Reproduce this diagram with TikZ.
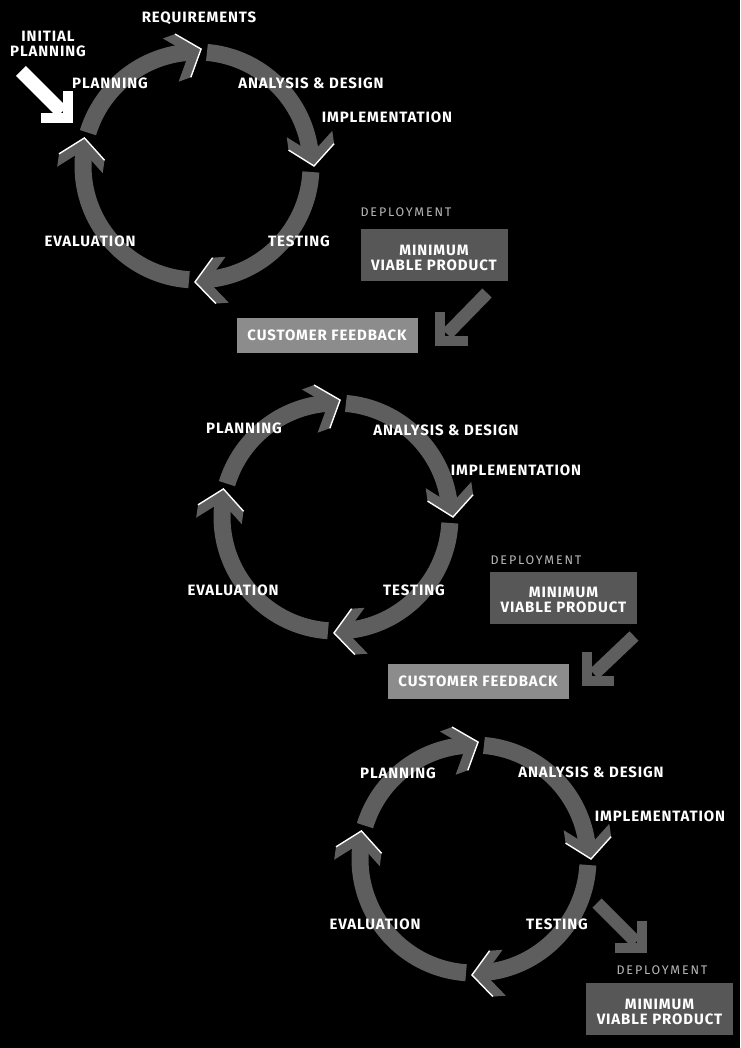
\documentclass[tikz,border=0pt]{standalone}
\usepackage{fontspec}
\setmainfont{Fira Sans}
\usetikzlibrary{calc}
\definecolor{ringgray}{gray}{0.37}
\definecolor{mvpgray}{gray}{0.34}
\definecolor{cfgray}{gray}{0.55}
\definecolor{deploygray}{gray}{0.72}
\tikzset{
  ring/.style={draw=ringgray, line width=17pt},
  lblfont/.style={font=\bfseries\fontsize{15}{15}\selectfont\addfontfeatures{LetterSpace=6}},
  lbl/.style={text=white, lblfont, inner sep=0pt, anchor=base},
  deploylbl/.style={text=deploygray, font=\fontsize{12.5}{12.5}\selectfont\addfontfeatures{LetterSpace=15}, inner sep=0pt, anchor=base},
  mvpbox/.style={fill=mvpgray, inner sep=0pt, minimum width=147pt, minimum height=52pt},
  mvptext/.style={text=white, lblfont, align=center, inner sep=0pt},
  cfbox/.style={fill=cfgray, text=white, lblfont, inner sep=0pt, minimum width=181pt, minimum height=35pt},
  chev/.pic={
    \fill[ringgray] (0,0) -- (-19.3,23) -- (-32.3,23) -- (-13,0) -- (-32.3,-23) -- (-19.3,-23) -- cycle;
    \draw[white, line width=1.4pt, line join=miter] (-19.3,23) -- (0,0) -- (-19.3,-23);
  },
  blockarrow/.style={draw=ringgray, line width=13pt},
  lhead/.style={draw=ringgray, line width=10pt, line join=miter},
}
\newcommand\cyclering[2]{%
  \begin{scope}[shift={(#1,-#2)}]
    \draw[ring] (163:114) arc[start angle=163, end angle=94, radius=114];
    \draw[ring] (85:114) arc[start angle=85, end angle=6, radius=114];
    \draw[ring] (-3:114) arc[start angle=-3, end angle=-85, radius=114];
    \draw[ring] (-94:114) arc[start angle=-94, end angle=-188, radius=114];
    \pic[rotate=20] at (88:117) {chev};
    \pic[rotate=-82] at (0:117) {chev};
    \pic[rotate=184] at (-91:116) {chev};
    \pic[rotate=82] at (166:116) {chev};
  \end{scope}}
\newcommand\lab[4]{\node[lbl] (#1) at (#2,-#3-5.2) {#4};}
\begin{document}
\begin{tikzpicture}[x=1pt,y=1pt]
\fill[black] (0,0) rectangle (740,-1048);
\useasboundingbox (0,0) rectangle (740,-1048);

% ---------- cycle 1 ----------
\cyclering{197}{166}
\lab{req}{199}{17}{REQUIREMENTS}
\node[lbl, anchor=center, align=center] (init) at (48,-44) {INITIAL\\PLANNING};
\coordinate (initA) at (21,-71);
\coordinate (initB) at (62,-112);
\draw[white, line width=14pt] (initA) -- (initB);
\draw[white, line width=10pt, line join=miter] (68,-91) -- (68,-118) -- (41,-118);
\lab{plan1}{110}{83}{PLANNING}
\lab{ana1}{311}{83}{ANALYSIS \& DESIGN}
\lab{impl1}{387}{117}{IMPLEMENTATION}
\lab{eval1}{90}{241}{EVALUATION}
\lab{test1}{299}{241}{TESTING}
\node[deploylbl] (dep1) at (406,-216.5) {DEPLOYMENT};
\node[mvpbox] (mvp1) at (434,-255) {};
\node[mvptext] (mvp1t) at ($(mvp1.center)+(0,-3)$) {MINIMUM\\VIABLE PRODUCT};
\node[cfbox] (cf1) at (327,-335) {CUSTOMER FEEDBACK};
\coordinate (a1s) at (487,-293);
\coordinate (a1e) at (447,-334);
\draw[blockarrow] (a1s) -- (a1e);
\draw[lhead] (440,-312) -- (440,-341) -- (468,-341);

% ---------- cycle 2 ----------
\cyclering{336}{517}
\lab{plan2}{244}{428}{PLANNING}
\lab{ana2}{446}{430}{ANALYSIS \& DESIGN}
\lab{impl2}{516}{470}{IMPLEMENTATION}
\lab{eval2}{233}{590}{EVALUATION}
\lab{test2}{414}{590}{TESTING}
\node[deploylbl] (dep2) at (536,-564.5) {DEPLOYMENT};
\node[mvpbox] (mvp2) at (563.5,-598) {};
\node[mvptext] (mvp2t) at ($(mvp2.center)+(0,-2)$) {MINIMUM\\VIABLE PRODUCT};
\node[cfbox] (cf2) at (478,-681) {CUSTOMER FEEDBACK};
\coordinate (a2s) at (634,-636);
\coordinate (a2e) at (594,-674);
\draw[blockarrow] (a2s) -- (a2e);
\draw[lhead] (587,-652) -- (587,-681) -- (614,-681);

% ---------- cycle 3 ----------
\cyclering{474}{859}
\lab{plan3}{398}{773}{PLANNING}
\lab{ana3}{591}{772}{ANALYSIS \& DESIGN}
\lab{impl3}{660}{816}{IMPLEMENTATION}
\lab{eval3}{375}{924}{EVALUATION}
\lab{test3}{557}{924}{TESTING}
\coordinate (a3s) at (597,-903);
\coordinate (a3e) at (636,-942);
\draw[blockarrow] (a3s) -- (a3e);
\draw[lhead] (642,-921) -- (642,-948) -- (615,-948);
\node[deploylbl] (dep3) at (662,-974.5) {DEPLOYMENT};
\node[mvpbox] (mvp3) at (659.5,-1009) {};
\node[mvptext] (mvp3t) at ($(mvp3.center)+(0,-2.5)$) {MINIMUM\\VIABLE PRODUCT};
\end{tikzpicture}
\end{document}
